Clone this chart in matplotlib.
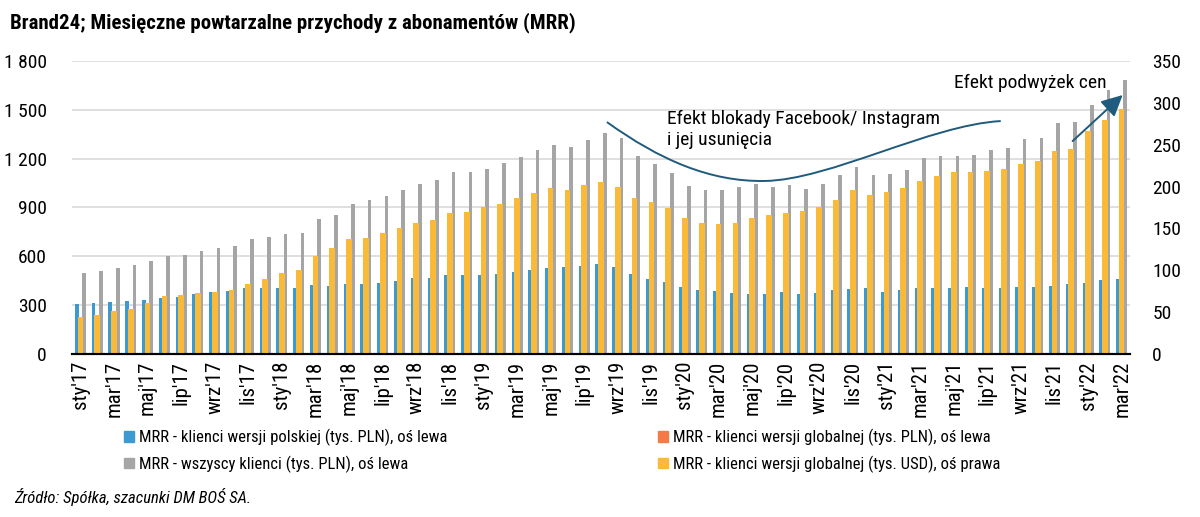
import matplotlib
matplotlib.use("Agg")
import matplotlib.pyplot as plt
from matplotlib import font_manager
from matplotlib.path import Path
from matplotlib.patches import PathPatch, Patch
import numpy as np

# -------------------------
# DATA
# -------------------------
months_pl = ["sty", "lut", "mar", "kwi", "maj", "cze", "lip", "sie", "wrz", "paź", "lis", "gru"]
years = ["17", "18", "19", "20", "21", "22"]
categories = [f"{m}'{y}" for y in years for m in months_pl][:63]  # sty'17 .. mar'22

# MRR - klienci wersji polskiej (tys. PLN), left axis
mrr_pl = [309, 313, 319, 328, 334, 346, 350, 369, 381, 387, 403, 403,
          408, 408, 424, 418, 428, 428, 436, 446, 467, 467, 485, 483,
          483, 491, 506, 516, 528, 532, 543, 555, 534, 491, 463, 442,
          412, 395, 387, 373, 369, 369, 379, 371, 373, 391, 399, 403,
          381, 393, 403, 403, 408, 410, 408, 408, 414, 414, 420, 428,
          436, 453, 461]

# MRR - wszyscy klienci (tys. PLN), left axis
mrr_all = [498, 508, 528, 549, 569, 604, 610, 635, 651, 663, 706, 721,
           739, 743, 829, 854, 924, 946, 973, 1010, 1044, 1069, 1120, 1120,
           1139, 1173, 1212, 1253, 1286, 1274, 1313, 1360, 1327, 1216, 1167, 1112,
           1034, 1005, 1010, 1026, 1042, 1024, 1036, 1014, 1042, 1102, 1147, 1102,
           1104, 1128, 1202, 1216, 1216, 1225, 1255, 1263, 1321, 1325, 1419, 1423,
           1532, 1620, 1685]

# MRR - klienci wersji globalnej (tys. PLN), left axis (hidden behind USD bars)
mrr_glob_pln = [a - p for a, p in zip(mrr_all, mrr_pl)]

# MRR - klienci wersji globalnej (tys. USD), right axis
mrr_glob_usd = [44, 46, 51, 54, 61, 69, 70, 73, 74, 77, 84, 89,
                97, 100, 117, 127, 137, 139, 145, 150, 156, 160, 168, 170,
                175, 179, 186, 192, 198, 196, 202, 206, 200, 186, 182, 174,
                162, 156, 155, 156, 162, 166, 168, 171, 176, 184, 196, 190,
                194, 198, 207, 213, 217, 218, 219, 221, 227, 230, 242, 245,
                266, 279, 293]

left_ticks = [0, 300, 600, 900, 1200, 1500, 1800]
left_tick_labels = ["0", "300", "600", "900", "1 200", "1 500", "1 800"]
right_ticks = [0, 50, 100, 150, 200, 250, 300, 350]

legend_labels = [
    "MRR - klienci wersji polskiej (tys. PLN), oś lewa",
    "MRR - wszyscy klienci (tys. PLN), oś lewa",
    "MRR - klienci wersji globalnej (tys. PLN), oś lewa",
    "MRR - klienci wersji globalnej (tys. USD), oś prawa",
]

# -------------------------
# STYLE
# -------------------------
def pick_font(names):
    for n in names:
        try:
            font_manager.findfont(n, fallback_to_default=False)
            return n
        except Exception:
            pass
    return "DejaVu Sans"

font = pick_font(["Liberation Sans Narrow", "Roboto Condensed", "Liberation Sans"])
plt.rcParams["font.family"] = [font, "DejaVu Sans"]

c_blue = "#3D9AD1"
c_orange = "#F47B45"
c_gray = "#A5A5A5"
c_yellow = "#FBB93A"
c_note = "#1F5B7C"

# -------------------------
# PLOT
# -------------------------
fig = plt.figure(figsize=(12, 5.17), dpi=100)
ax = fig.add_axes([0.06, 0.3153, 0.8817, 0.5667])
ax2 = ax.twinx()

x = np.arange(len(categories))
w = 0.22
ax.bar(x - w, mrr_pl, width=w, color=c_blue, zorder=2)
ax.bar(x, mrr_glob_pln, width=w, color=c_orange, zorder=2)
ax.bar(x + w, mrr_all, width=w, color=c_gray, zorder=2)
ax2.bar(x, mrr_glob_usd, width=0.34, color=c_yellow, zorder=2)

ax.set_xlim(-0.5, len(categories) - 0.5)
ax.set_ylim(0, 1800)
ax2.set_ylim(0, 350)

ax.set_yticks(left_ticks)
ax.set_yticklabels(left_tick_labels)
ax2.set_yticks(right_ticks)
ax.yaxis.grid(True, color="#D9D9D9", lw=1.2, zorder=0)
ax.set_axisbelow(True)

ax.set_xticks(x[::2])
ax.set_xticklabels(categories[::2], rotation=90, fontsize=15)
ax.tick_params(axis="x", length=0, pad=5)
ax.tick_params(axis="y", length=0, labelsize=14, pad=18)
ax2.tick_params(axis="y", length=0, labelsize=14, pad=16)

for a in (ax, ax2):
    for s in ("top", "left", "right"):
        a.spines[s].set_visible(False)
    a.spines["bottom"].set_linewidth(1.5)
    a.spines["bottom"].set_color("black")

# annotation: Facebook/Instagram curve (on left-axis data coords)
curve_pts = [(31.35, 1425), (34.5, 1192), (37.5, 1057), (40.75, 1063),
             (44.6, 1069), (50.6, 1407), (54.8, 1431)]
codes = [Path.MOVETO] + [Path.CURVE4] * 6
ax2.add_patch(PathPatch(Path(curve_pts, codes), transform=ax.transData,
                        fill=False, edgecolor=c_note, lw=1.4, zorder=5))
ax2.text(34.9, 1500, "Efekt blokady Facebook/ Instagram\ni jej usunięcia",
         transform=ax.transData, fontsize=14, ha="left", va="top",
         linespacing=1.2, zorder=6)

# annotation: price increase arrow
ax2.annotate("", xy=(62.06, 1591), xytext=(59.08, 1308),
             xycoords=ax.transData, textcoords=ax.transData,
             arrowprops=dict(arrowstyle="-|>", color=c_note, lw=1.4,
                             mutation_scale=32, shrinkA=0, shrinkB=0),
             zorder=6)
ax2.text(52.0, 1665, "Efekt podwyżek cen", transform=ax.transData,
         fontsize=14, ha="left", va="center", zorder=6)

# title & source
fig.text(0.008, 0.957, "Brand24; Miesięczne powtarzalne przychody z abonamentów (MRR)",
         fontsize=15, fontweight="bold", ha="left", va="center")
fig.text(0.012, 0.038, "Źródło: Spółka, szacunki DM BOŚ SA.",
         fontsize=12, style="italic", ha="left", va="center")

# legends
h = [Patch(color=c) for c in (c_blue, c_gray, c_orange, c_yellow)]
fig.legend(h[:2], legend_labels[:2], loc="upper left",
           bbox_to_anchor=(0.098, 0.183), frameon=False, fontsize=12,
           handlelength=0.6, handleheight=0.6, handletextpad=0.3,
           labelspacing=0.55, borderaxespad=0)
fig.legend(h[2:], legend_labels[2:], loc="upper left",
           bbox_to_anchor=(0.543, 0.183), frameon=False, fontsize=12,
           handlelength=0.6, handleheight=0.6, handletextpad=0.3,
           labelspacing=0.55, borderaxespad=0)

fig.savefig("out.png", dpi=100)
plt.close(fig)
